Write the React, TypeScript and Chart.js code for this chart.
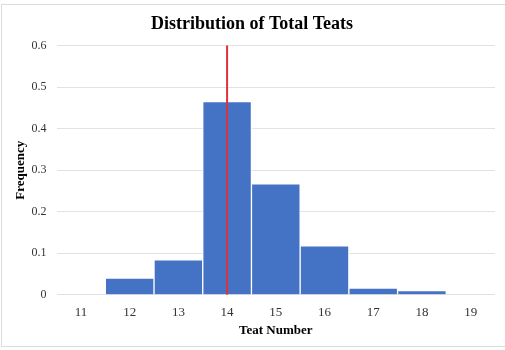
import React, { useEffect, useRef } from "react";
import { Chart, registerables } from "chart.js";

Chart.register(...registerables);

const categories = ["11", "12", "13", "14", "15", "16", "17", "18", "19"];
const frequencies = [null, 0.04, 0.084, 0.465, 0.267, 0.118, 0.016, 0.01, null];
const markerTeat = "14";
const markerRange = [0, 0.605];
const yTicks = [0, 0.1, 0.2, 0.3, 0.4, 0.5, 0.6];

const borderPlugin = {
  id: "frameBorder",
  afterDraw(chart: any) {
    const ctx = chart.ctx;
    ctx.save();
    ctx.strokeStyle = "#dcdcdc";
    ctx.lineWidth = 1;
    ctx.strokeRect(1.5, 4.5, chart.width - 1, 342);
    ctx.restore();
  },
};

export default function App() {
  const ref = useRef<HTMLCanvasElement | null>(null);
  useEffect(() => {
    if (!ref.current) return;
    const font = "'Liberation Serif', 'Times New Roman', serif";
    const chart = new Chart(ref.current, {
      type: "bar",
      data: {
        labels: categories,
        datasets: [
          {
            type: "line",
            data: markerRange.map((y) => ({ x: markerTeat, y })),
            borderColor: "#E0313B",
            borderWidth: 2,
            pointRadius: 0,
            fill: false,
            order: 0,
          } as any,
          {
            type: "bar",
            data: frequencies,
            backgroundColor: "#4472C4",
            borderColor: "#ffffff",
            borderWidth: 1,
            barPercentage: 1,
            categoryPercentage: 1,
            order: 1,
          },
        ],
      },
      options: {
        animation: false,
        responsive: false,
        layout: { padding: { left: 9, right: 10, top: 6, bottom: 10 } },
        plugins: {
          legend: { display: false },
          tooltip: { enabled: false },
          title: {
            display: true,
            text: "Distribution of Total Teats",
            color: "#000",
            font: { family: font, size: 18, weight: "bold" },
            padding: { top: 8, bottom: 10 },
          },
        },
        scales: {
          x: {
            grid: { display: false },
            border: { display: false },
            ticks: { color: "#333", font: { family: font, size: 13 }, padding: 2 },
            title: {
              display: true,
              text: "Teat Number",
              color: "#000",
              font: { family: font, size: 13, weight: "bold" },
              padding: { top: 0, bottom: 2 },
            },
          },
          y: {
            min: 0,
            max: 0.6,
            afterBuildTicks: (axis: any) => {
              axis.ticks = yTicks.map((v) => ({ value: v }));
            },
            grid: { color: "#e2e2e2", drawTicks: false },
            border: { display: false },
            ticks: {
              color: "#333",
              font: { family: font, size: 12 },
              padding: 10,
              callback: (v: any) => String(Number(v)),
            },
            title: {
              display: true,
              text: "Frequency",
              color: "#000",
              font: { family: font, size: 13, weight: "bold" },
              padding: { top: 4, bottom: -7 },
            },
          },
        },
      },
      plugins: [borderPlugin],
    });
    return () => chart.destroy();
  }, []);
  return (
    <div style={{ position: "absolute", left: 0, top: 0, width: 505, height: 350 }}>
      <canvas ref={ref} width={505} height={350} />
    </div>
  );
}
